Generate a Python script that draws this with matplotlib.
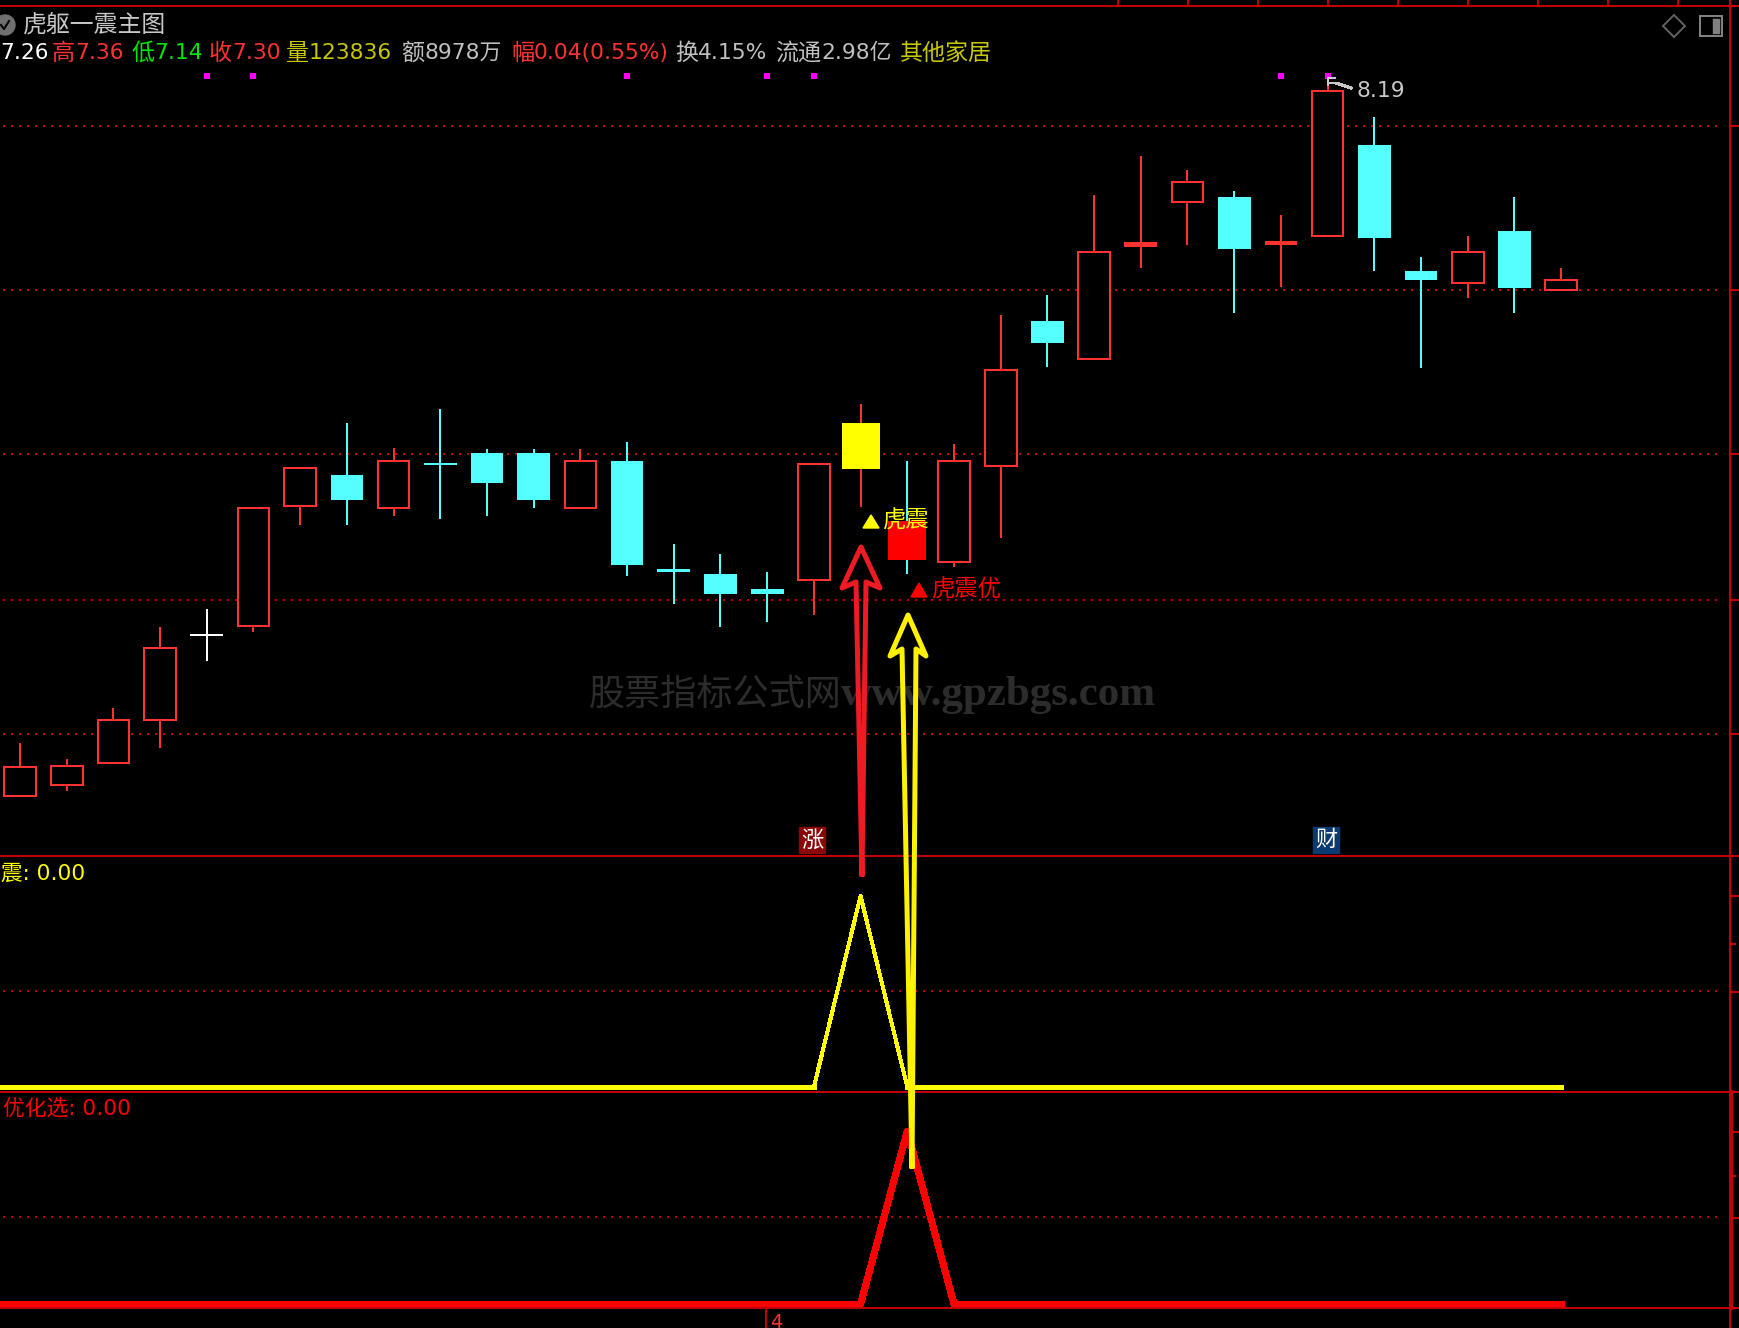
import matplotlib
matplotlib.use("Agg")
import matplotlib.pyplot as plt
from matplotlib.patches import Circle, Rectangle, Polygon

plt.rcParams['font.family'] = ['DejaVu Sans', 'Noto Sans CJK SC']

# Candles (index 0 is the first whole candle on screen)
opens = [7.036, 7.054, 7.090, 7.161, 7.299, 7.315, 7.511, 7.562, 7.508, 7.580, 7.598, 7.598,
         7.508, 7.584, 7.408, 7.399, 7.375, 7.390, 7.647, 7.422, 7.419, 7.577, 7.814, 7.751,
         7.934, 8.008, 8.016, 7.938, 7.952, 8.101, 7.896, 7.876, 7.961, 7.865]
closes = [7.083, 7.085, 7.161, 7.279, 7.299, 7.508, 7.573, 7.520, 7.584, 7.580, 7.549, 7.520,
          7.584, 7.415, 7.402, 7.366, 7.366, 7.580, 7.571, 7.486, 7.584, 7.734, 7.778, 7.927,
          7.942, 8.041, 7.932, 7.945, 8.190, 7.949, 7.880, 7.927, 7.867, 7.881]
highs = [7.123, 7.096, 7.181, 7.312, 7.342, 7.509, 7.575, 7.647, 7.606, 7.669, 7.604, 7.604,
         7.604, 7.616, 7.448, 7.433, 7.402, 7.580, 7.678, 7.584, 7.613, 7.823, 7.856, 8.019,
         8.083, 8.061, 8.027, 7.987, 8.199, 8.148, 7.918, 7.952, 8.016, 7.900]
lows = [7.036, 7.045, 7.090, 7.114, 7.257, 7.304, 7.480, 7.480, 7.495, 7.489, 7.495, 7.508,
        7.508, 7.397, 7.350, 7.313, 7.321, 7.333, 7.509, 7.399, 7.411, 7.459, 7.738, 7.751,
        7.900, 7.938, 7.827, 7.869, 7.952, 7.896, 7.736, 7.851, 7.827, 7.865]

grid_prices = [8.133, 7.864, 7.596, 7.357, 7.138]
signal_idx = [4, 5, 13, 16, 17, 27, 28]
signal_level = 8.215

# Lower panels, from the bar before the first whole candle
panel_idx = list(range(-1, 34))
zhen = [0] * 35
zhen[19] = 1
you = [0] * 35
you[20] = 1

# Header line: text, left edge, colour
header_texts = ['7.26', '高', '7.36', '低', '7.14', '收', '7.30', '量', '123836', '额', '8978万',
                '幅', '0.04(0.55%)', '换', '4.15%', '流通', '2.98亿', '其他家居']
header_x = [0, 52, 75, 131, 154, 209, 232, 286, 309, 401, 424, 511, 534, 675, 698, 775, 821, 900]
header_col = ['white', '#ff3232', '#ff3232', '#00e600', '#00e600', '#ff3232', '#ff3232', '#c8c800',
              '#c8c800', '#c0c0c0', '#c0c0c0', '#ff3232', '#ff3232', '#c0c0c0', '#c0c0c0', '#c0c0c0',
              '#c0c0c0', '#c8c800']

UP = '#ff3232'
DOWN = '#54ffff'
LINE = '#c00000'
W, H = 1739, 1328
px = 0.72  # one pixel in points at dpi 100


def make_axes(top, bottom, ymin, ymax):
    a = fig.add_axes([0, 1 - bottom / H, 1730 / W, (bottom - top) / H])
    a.set_xlim(-0.428, 36.617)
    a.set_ylim(ymin, ymax)
    a.set_facecolor('black')
    a.axis('off')
    return a


def dotted(a, y):
    a.plot([-0.37, 36.4], [y, y], color=LINE, lw=2 * px, ls=(0, (1, 3)), antialiased=False, zorder=1)


fig = plt.figure(figsize=(W / 100, H / 100), dpi=100, facecolor='black')
ax = make_axes(6, 856, 6.938, 8.329)
ax2 = make_axes(856, 1092, -0.026, 1.209)
ax3 = make_axes(1092, 1308, -0.023, 1.225)

for g in grid_prices:
    dotted(ax, g)
dotted(ax2, 0.5)
dotted(ax3, 0.5)

# Candles
for i in range(len(opens)):
    o, c, h, l = opens[i], closes[i], highs[i], lows[i]
    top, bot = max(o, c), min(o, c)
    col = UP if c > o else DOWN
    if i == 4:
        col = 'white'
    wick = DOWN if i == 19 else (UP if i == 18 else col)
    ax.vlines(i, l, h, color=wick, lw=2 * px, antialiased=False, zorder=2)
    if i == 18:
        ax.bar(i, top - bot, bottom=bot, width=0.81, color='#ffff00', zorder=3)
    elif i == 19:
        ax.bar(i, top - bot, bottom=bot, width=0.81, color='#ff0000', zorder=3)
    elif top - bot < 0.001:
        ax.hlines(top, i - 0.35, i + 0.35, color=col, lw=2 * px, antialiased=False, zorder=3)
    elif c > o and top - bot > 0.009:
        ax.bar(i, top - bot, bottom=bot, width=0.68, facecolor='black', edgecolor=col,
               linewidth=2 * px, zorder=3)
    else:
        ax.bar(i, top - bot, bottom=bot, width=0.70, color=col, zorder=3)

ax.scatter(signal_idx, [signal_level] * len(signal_idx), marker='s', s=19, color='#ff00ff',
           linewidths=0, zorder=4)

# Yellow line: thinner on the slopes than on the flat runs
ax2.plot(panel_idx, zhen, color='#ffff00', lw=3 * px, antialiased=False, solid_joinstyle='round')
ax2.plot(panel_idx[:19], zhen[:19], color='#ffff00', lw=4.5 * px, antialiased=False)
ax2.plot(panel_idx[20:], zhen[20:], color='#ffff00', lw=4.5 * px, antialiased=False)
ax3.plot(panel_idx, you, color='#ff0000', lw=6 * px, antialiased=False, solid_joinstyle='round')

# Everything else sits on a pixel overlay
ov = fig.add_axes([0, 0, 1, 1])
ov.set_xlim(0, W)
ov.set_ylim(H, 0)
ov.axis('off')
ov.patch.set_alpha(0)

# Frame
for y in [6, 856, 1092, 1308]:
    ov.plot([0, W], [y, y], color=LINE, lw=2 * px, antialiased=False)
ov.plot([1730, 1730], [0, H], color=LINE, lw=2 * px, antialiased=False)
ov.plot([1731, 1731], [1092, 1308], color=LINE, lw=4 * px, antialiased=False)
for x in range(1118, 1700, 70):
    ov.plot([x, x], [0, 6], color=LINE, lw=2 * px, antialiased=False)
for y in [126, 290, 454, 600, 734, 896, 992, 1132, 1218]:
    ov.plot([1730, W], [y, y], color=LINE, lw=2 * px, antialiased=False)
for y in [944, 1176]:
    ov.plot([1730, 1735], [y, y], color=LINE, lw=2 * px, antialiased=False)
ov.plot([766, 766], [1308, H], color=LINE, lw=2 * px, antialiased=False)
ov.text(770, 1322, '4', color=UP, fontsize=14, va='center', ha='left')

# Title and header
ov.add_patch(Circle((5, 25), 10, color='#707070'))
ov.plot([1, 4, 9], [25, 29, 21], color='black', lw=1.5)
ov.text(23, 26, '虎躯一震主图', color='#c8c8c8', fontsize=17.2, va='center', ha='left')
for t, x, c in zip(header_texts, header_x, header_col):
    size = 15.7 if t[0].isdigit() else 16.6
    ov.text(x, 53, t, color=c, fontsize=size, va='center', ha='left')

# Window icons
ov.add_patch(Polygon([(1674, 15), (1685, 26), (1674, 37), (1663, 26)], closed=True, fill=False,
                     edgecolor='#606060', lw=2 * px))
ov.add_patch(Rectangle((1700, 16), 22, 20, fill=False, edgecolor='#808080', lw=2 * px))
ov.add_patch(Rectangle((1713, 19), 6, 14, color='#808080'))

# High price label
ov.plot([1328, 1328, 1335], [85, 78, 78], color='#c8c8c8', lw=2 * px, antialiased=False)
ov.plot([1329, 1336, 1351], [83, 83, 88], color='#c8c8c8', lw=2 * px, antialiased=False)
ov.text(1356, 91, '8.19', color='#c8c8c8', fontsize=15.7, va='center', ha='left')

# Signal labels
ov.fill([863, 871, 879], [528, 515, 528], color='#ffff00', zorder=6)
ov.text(882, 521, '虎震', color='#ffff00', fontsize=16.8, va='center', ha='left', zorder=6)
ov.fill([911, 919, 927], [597, 583, 597], color='#ff0000', zorder=6)
ov.text(931, 590, '虎震优', color='#ff0000', fontsize=16.8, va='center', ha='left', zorder=6)

# Badges
ov.add_patch(Rectangle((799, 827), 26, 26, color='#8b0808', zorder=6))
ov.text(812, 840, '涨', color='white', fontsize=16, va='center', ha='center', zorder=7)
ov.add_patch(Rectangle((1313, 827), 26, 26, color='#0a3a70', zorder=6))
ov.text(1326, 840, '财', color='white', fontsize=16, va='center', ha='center', zorder=7)

# Panel labels
ov.text(-21, 873, '虎震: 0.00', color='#ffff00', fontsize=15.7, va='center', ha='left', clip_on=True)
ov.text(3, 1108, '优化选: 0.00', color='#ff0000', fontsize=15.7, va='center', ha='left')

# Watermark, the Chinese part and the address have different widths
ov.text(589, 695, '股票指标公式网', color='#2c2c2c', fontsize=26, family='Noto Sans CJK SC',
        va='center', ha='left', zorder=1)
ov.text(841, 695, 'www.gpzbgs.com', color='#2c2c2c', fontsize=31, fontweight='bold',
        family='Liberation Serif', va='center', ha='left', zorder=1)

# Hand drawn arrows
ov.plot([862, 856, 842, 861, 880, 866, 862], [874, 582, 588, 547, 588, 582, 874],
        color='#ed1c24', lw=5 * px, solid_joinstyle='round', zorder=8)
ov.plot([912, 902, 890, 908, 926, 916, 912], [1166, 649, 656, 615, 656, 649, 1166],
        color='#fff200', lw=5 * px, solid_joinstyle='round', zorder=8)

fig.savefig('out.png', dpi=100, facecolor='black')
